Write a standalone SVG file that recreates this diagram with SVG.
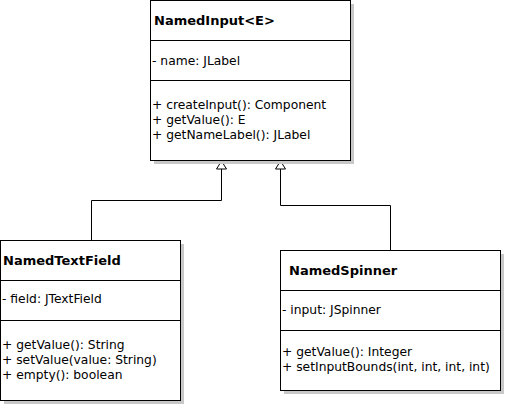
<svg xmlns="http://www.w3.org/2000/svg" width="505" height="405" viewBox="0 0 505 405">
<style>
.box{fill:#fff;stroke:#000;stroke-width:1}
.sh{fill:#c8c8c8;stroke:none}
.div{stroke:#000;stroke-width:1}
text{font-family:"DejaVu Sans",sans-serif;font-size:12.3px;fill:#000}
.t{font-weight:bold;font-size:13px}
.c{fill:none;stroke:#000;stroke-width:1}
.tri{fill:#fff;stroke:#000;stroke-width:1}
</style>
<g id="connectors">
<path class="c" d="M91.5,240 V200.5 H221.5 V169"/>
<path class="c" d="M390.5,250 V205.5 H280.5 V169"/>
<path class="tri" d="M216.5,169 L221.5,161 L226.5,169 Z"/>
<path class="tri" d="M275.5,169 L280.5,161 L285.5,169 Z"/>
</g>
<g id="NamedInput">
<rect class="sh" x="154" y="4" width="200" height="160"/>
<rect class="box" x="150.5" y="0.5" width="200" height="160"/>
<line class="div" x1="150.5" y1="40.5" x2="350.5" y2="40.5"/>
<line class="div" x1="150.5" y1="80.5" x2="350.5" y2="80.5"/>
<text class="t" x="154" y="24.5">NamedInput&lt;E&gt;</text>
<text x="152" y="65">- name: JLabel</text>
<text x="152" y="109">+ createInput(): Component</text>
<text x="152" y="124">+ getValue(): E</text>
<text x="152" y="139">+ getNameLabel(): JLabel</text>
</g>
<g id="NamedTextField">
<rect class="sh" x="4" y="244" width="180" height="160"/>
<rect class="box" x="0.5" y="240.5" width="180" height="160"/>
<line class="div" x1="0.5" y1="280.5" x2="180.5" y2="280.5"/>
<line class="div" x1="0.5" y1="320.5" x2="180.5" y2="320.5"/>
<text class="t" x="3" y="264.5">NamedTextField</text>
<text x="2" y="303">- field: JTextField</text>
<text x="2" y="349">+ getValue(): String</text>
<text x="2" y="364">+ setValue(value: String)</text>
<text x="2" y="379">+ empty(): boolean</text>
</g>
<g id="NamedSpinner">
<rect class="sh" x="284" y="254" width="220" height="140"/>
<rect class="box" x="280.5" y="250.5" width="220" height="140"/>
<line class="div" x1="280.5" y1="290.5" x2="500.5" y2="290.5"/>
<line class="div" x1="280.5" y1="330.5" x2="500.5" y2="330.5"/>
<text class="t" x="289" y="274.5">NamedSpinner</text>
<text x="282" y="314">- input: JSpinner</text>
<text x="282" y="356">+ getValue(): Integer</text>
<text x="282" y="371">+ setInputBounds(int, int, int, int)</text>
</g>
</svg>
